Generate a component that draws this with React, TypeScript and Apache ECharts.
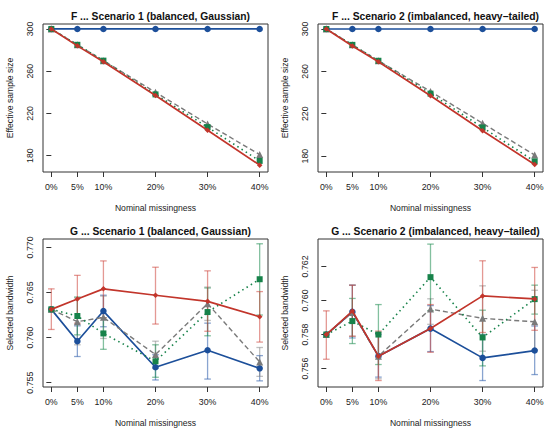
import React, { useEffect, useRef } from "react";
import * as echarts from "echarts";

const FONT = "Liberation Sans, Arial, Helvetica, sans-serif";

const missingness = [0, 5, 10, 20, 30, 40];
const xTicks = [0, 5, 10, 20, 30, 40];
const essTicks = [180, 220, 260, 300];
const bw1Ticks = [0.755, 0.76, 0.765, 0.77];
const bw2Ticks = [0.756, 0.758, 0.76, 0.762];

const titles = [
  "F ... Scenario 1 (balanced, Gaussian)",
  "F ... Scenario 2 (imbalanced, heavy\u2212tailed)",
  "G ... Scenario 1 (balanced, Gaussian)",
  "G ... Scenario 2 (imbalanced, heavy\u2212tailed)",
];

// Effective sample size, scenario 1
const ess1Blue = [300, 300, 300, 300, 300, 300];
const ess1Gray = [300, 285, 270, 240, 210, 181];
const ess1Green = [300, 285, 270, 238, 207, 175];
const ess1Red = [300, 284, 269, 237, 204, 171];

// Effective sample size, scenario 2
const ess2Blue = [300, 300, 300, 300, 300, 300];
const ess2Gray = [300, 285, 270, 241, 211, 181];
const ess2Green = [300, 285, 270, 239, 207, 175];
const ess2Red = [300, 284, 269, 237, 204, 172];

// Selected bandwidth, scenario 1 (null = no visible bar)
const bw1Blue = [0.76313, 0.7596, 0.76294, 0.75671, 0.7586, 0.75659];
const bw1BlueLo = [null, 0.7579, 0.7612, 0.7553, 0.7554, 0.7552];
const bw1BlueHi = [null, 0.7613, 0.7647, 0.7581, 0.7616, 0.758];
const bw1Gray = [0.76313, 0.76176, 0.76224, 0.75812, 0.76376, 0.7573];
const bw1GrayLo = [null, 0.7592, 0.7599, 0.7566, 0.7619, 0.7557];
const bw1GrayHi = [null, 0.7644, 0.7646, 0.7596, 0.7656, 0.7589];
const bw1Green = [0.76313, 0.76239, 0.76046, 0.75737, 0.76283, 0.76647];
const bw1GreenLo = [null, 0.7603, 0.7587, 0.7556, 0.7602, 0.7625];
const bw1GreenHi = [null, 0.7645, 0.7622, 0.7592, 0.7655, 0.7704];
const bw1Red = [0.76313, 0.76428, 0.7654, 0.76469, 0.76402, 0.76231];
const bw1RedLo = [0.7609, 0.7616, 0.7622, 0.7615, 0.7607, 0.7595];
const bw1RedHi = [0.7654, 0.7669, 0.7685, 0.7678, 0.7674, 0.7651];

// Selected bandwidth, scenario 2
const bw2Blue = [0.758, 0.75933, 0.75673, 0.75835, 0.75663, 0.75706];
const bw2BlueLo = [null, 0.7578, 0.7555, 0.757, 0.7553, 0.75565];
const bw2BlueHi = [null, 0.7609, 0.758, 0.7597, 0.758, 0.7585];
const bw2Gray = [0.758, 0.7593, 0.75673, 0.7595, 0.75895, 0.75875];
const bw2GrayLo = [null, 0.7579, 0.7554, 0.7586, 0.75702, 0.7571];
const bw2GrayHi = [null, 0.7609, 0.7581, 0.7601, 0.76086, 0.7606];
const bw2Green = [0.758, 0.75879, 0.758, 0.76137, 0.75783, 0.76008];
const bw2GreenLo = [null, 0.75747, 0.75624, 0.7594, 0.75616, 0.7592];
const bw2GreenHi = [null, 0.76012, 0.75976, 0.76331, 0.75943, 0.7609];
const bw2Red = [0.758, 0.75938, 0.75673, 0.75836, 0.76027, 0.76009];
const bw2RedLo = [0.75655, 0.7579, 0.7553, 0.75696, 0.75812, 0.75825];
const bw2RedHi = [0.75939, 0.7609, 0.7582, 0.75976, 0.76233, 0.76194];

const COLORS = {
  blue: "#1c4f9a",
  gray: "#7a7a7a",
  green: "#17824a",
  red: "#c2352b",
};
const BAR_COLORS = {
  blue: "rgba(40,90,170,0.55)",
  gray: "rgba(130,130,130,0.5)",
  green: "rgba(30,140,80,0.55)",
  red: "rgba(205,70,60,0.55)",
};

type Key = "blue" | "gray" | "green" | "red";
type Vals = (number | null)[];

interface PanelData {
  lines: Record<Key, number[]>;
  lo?: Record<Key, Vals>;
  hi?: Record<Key, Vals>;
}

const panels: {
  data: PanelData;
  yMin: number;
  yMax: number;
  yTicks: number[];
  yDec: number;
  yName: string;
}[] = [
  {
    data: { lines: { blue: ess1Blue, gray: ess1Gray, green: ess1Green, red: ess1Red } },
    yMin: 164.5,
    yMax: 304.7,
    yTicks: essTicks,
    yDec: 0,
    yName: "Effective sample size",
  },
  {
    data: { lines: { blue: ess2Blue, gray: ess2Gray, green: ess2Green, red: ess2Red } },
    yMin: 165,
    yMax: 304.7,
    yTicks: essTicks,
    yDec: 0,
    yName: "Effective sample size",
  },
  {
    data: {
      lines: { blue: bw1Blue, gray: bw1Gray, green: bw1Green, red: bw1Red },
      lo: { blue: bw1BlueLo, gray: bw1GrayLo, green: bw1GreenLo, red: bw1RedLo },
      hi: { blue: bw1BlueHi, gray: bw1GrayHi, green: bw1GreenHi, red: bw1RedHi },
    },
    yMin: 0.75452,
    yMax: 0.77093,
    yTicks: bw1Ticks,
    yDec: 3,
    yName: "Selected bandwidth",
  },
  {
    data: {
      lines: { blue: bw2Blue, gray: bw2Gray, green: bw2Green, red: bw2Red },
      lo: { blue: bw2BlueLo, gray: bw2GrayLo, green: bw2GreenLo, red: bw2RedLo },
      hi: { blue: bw2BlueHi, gray: bw2GrayHi, green: bw2GreenHi, red: bw2RedHi },
    },
    yMin: 0.75492,
    yMax: 0.76361,
    yTicks: bw2Ticks,
    yDec: 3,
    yName: "Selected bandwidth",
  },
];

const gridPos = [
  { left: 43, top: 24 },
  { left: 318, top: 24 },
  { left: 43, top: 239 },
  { left: 318, top: 239 },
];
const GRID_W = 225;
const GRID_H = 148;

const order: Key[] = ["blue", "gray", "green", "red"];
const lineStyleFor: Record<Key, any> = {
  blue: { type: "solid", width: 1.7 },
  gray: { type: [5, 3], width: 1.4 },
  green: { type: [1.5, 3.5], width: 1.6 },
  red: { type: "solid", width: 1.7 },
};
const symbolFor: Record<Key, [string, number]> = {
  blue: ["circle", 6.5],
  gray: ["triangle", 7],
  green: ["rect", 6],
  red: ["diamond", 5.5],
};

function buildOption() {
  const grid: any[] = [];
  const xAxis: any[] = [];
  const yAxis: any[] = [];
  const series: any[] = [];
  const title: any[] = [];

  panels.forEach((p, i) => {
    const g = gridPos[i];
    grid.push({
      left: g.left,
      top: g.top,
      width: GRID_W,
      height: GRID_H,
      show: true,
      borderColor: "#333",
      borderWidth: 1,
      backgroundColor: "transparent",
      containLabel: false,
    });
    title.push({
      text: titles[i],
      left: g.left + GRID_W / 2,
      top: i < 2 ? 6 : 221,
      textAlign: "center",
      textStyle: { fontFamily: FONT, fontSize: 10.3, fontWeight: "bold", color: "#111" },
    });
    xAxis.push({
      type: "value",
      gridIndex: i,
      min: -1.6,
      max: 41.6,
      axisLine: { show: false },
      splitLine: { show: false },
      axisTick: { show: true, inside: false, length: 5, customValues: xTicks, lineStyle: { color: "#333" } },
      axisLabel: {
        show: true,
        customValues: xTicks,
        formatter: (v: number) => `${v}%`,
        margin: 10,
        fontFamily: FONT,
        fontSize: 8.8,
        color: "#222",
      },
      name: "Nominal missingness",
      nameLocation: "middle",
      nameGap: 31,
      nameTextStyle: { fontFamily: FONT, fontSize: 8.6, color: "#222" },
    });
    yAxis.push({
      type: "value",
      gridIndex: i,
      min: p.yMin,
      max: p.yMax,
      axisLine: { show: false },
      splitLine: { show: false },
      axisTick: { show: true, inside: false, length: 5, customValues: p.yTicks, lineStyle: { color: "#333" } },
      axisLabel: {
        show: true,
        customValues: p.yTicks,
        formatter: (v: number) => v.toFixed(p.yDec),
        rotate: 90,
        margin: 9,
        fontFamily: FONT,
        fontSize: 8.8,
        color: "#222",
      },
      name: p.yName,
      nameLocation: "middle",
      nameGap: 29,
      nameRotate: 90,
      nameTextStyle: { fontFamily: FONT, fontSize: 8.6, color: "#222" },
    });

    // error bars
    if (p.data.lo && p.data.hi) {
      order.forEach((k) => {
        const lo = p.data.lo![k];
        const hi = p.data.hi![k];
        const color = BAR_COLORS[k];
        const rows = missingness
          .map((x, j) => [x, lo[j], hi[j]])
          .filter((r) => r[1] !== null && r[2] !== null);
        series.push({
          type: "custom",
          name: `${k}-err-${i}`,
          xAxisIndex: i,
          yAxisIndex: i,
          z: 1,
          data: rows,
          encode: { x: 0, y: [1, 2] },
          renderItem: (_params: any, api: any) => {
            const x = api.value(0);
            const a = api.coord([x, api.value(1)]);
            const b = api.coord([x, api.value(2)]);
            const w = 3.3;
            const style = { stroke: color, lineWidth: 1.3 };
            return {
              type: "group",
              children: [
                { type: "line", shape: { x1: a[0], y1: a[1], x2: b[0], y2: b[1] }, style },
                { type: "line", shape: { x1: a[0] - w, y1: a[1], x2: a[0] + w, y2: a[1] }, style },
                { type: "line", shape: { x1: b[0] - w, y1: b[1], x2: b[0] + w, y2: b[1] }, style },
              ],
            };
          },
        });
      });
    }

    order.forEach((k, idx) => {
      const vals = p.data.lines[k];
      series.push({
        type: "line",
        name: `${k}-${i}`,
        xAxisIndex: i,
        yAxisIndex: i,
        z: 2 + idx,
        data: missingness.map((x, j) => [x, vals[j]]),
        symbol: symbolFor[k][0],
        symbolSize: symbolFor[k][1],
        showSymbol: true,
        itemStyle: { color: COLORS[k] },
        lineStyle: { color: COLORS[k], ...lineStyleFor[k] },
        emphasis: { disabled: true },
      });
    });
  });

  return {
    animation: false,
    backgroundColor: "#ffffff",
    title,
    grid,
    xAxis,
    yAxis,
    series,
    tooltip: { show: false },
  };
}

export default function App() {
  const ref = useRef<HTMLDivElement>(null);
  useEffect(() => {
    document.body.style.margin = "0";
    if (!ref.current) return;
    const chart = echarts.init(ref.current, undefined, { renderer: "svg" });
    chart.setOption(buildOption() as any);
    return () => chart.dispose();
  }, []);
  return (
    <div style={{ position: "absolute", left: 0, top: 0, width: 550, height: 430 }}>
      <div ref={ref} style={{ width: 550, height: 430, background: "#fff" }} />
    </div>
  );
}
